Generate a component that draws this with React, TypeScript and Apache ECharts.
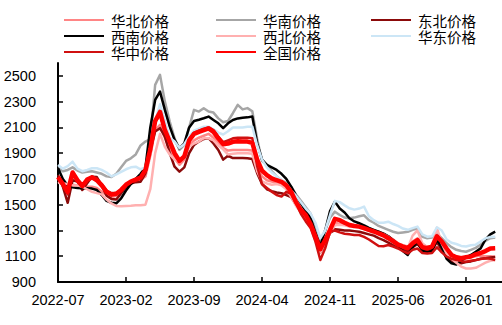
import React, { useEffect, useRef } from "react";
import * as echarts from "echarts";

// Semi-monthly observations starting 2022-07 (x = months since 2022-07)
const STEP_MONTHS = 0.5;
const xTickLabels = ["2022-07", "2023-02", "2023-09", "2024-04", "2024-11", "2025-06", "2026-01"];
const xTickStep = 7;
const yTicks = [900, 1100, 1300, 1500, 1700, 1900, 2100, 2300, 2500];

const huabei = [
  1680, 1660, 1650, 1655, 1650, 1645, 1640, 1640, 1630, 1600,
  1575, 1560, 1570, 1600, 1640, 1670, 1685, 1690, 1720, 1880,
  2080, 2120, 2020, 1930, 1860, 1810, 1850, 1960, 2000, 2020,
  2035, 2050, 2020, 1980, 1940, 1920, 1925, 1925, 1925, 1925,
  1920, 1790, 1720, 1690, 1680, 1670, 1660, 1630, 1580, 1500,
  1440, 1400, 1330, 1240, 1150, 1210, 1290, 1360, 1350, 1345,
  1340, 1335, 1330, 1320, 1310, 1300, 1290, 1275, 1255, 1230,
  1200, 1185, 1175, 1215, 1240, 1190, 1175, 1180, 1245, 1200,
  1150, 1110, 1090, 1085, 1090, 1095, 1100, 1105, 1100, 1100,
  1097,
];
const huanan = [
  1785, 1760, 1770, 1790, 1765, 1750, 1755, 1760, 1750, 1740,
  1720, 1715, 1740, 1790, 1840, 1860, 1890, 1960, 1990, 2010,
  2430, 2508, 2300, 2145, 2016, 1925, 1964, 2100, 2236, 2223,
  2249, 2223, 2215, 2170, 2140, 2150, 2210, 2275, 2240, 2250,
  2225, 2010, 1840, 1810, 1760, 1720, 1690, 1670, 1640, 1580,
  1530, 1480, 1430, 1330, 1220, 1300, 1400, 1446, 1420, 1400,
  1395, 1400, 1410, 1418, 1380, 1360, 1335, 1320, 1305, 1290,
  1280, 1285, 1290, 1305, 1315, 1250, 1240, 1245, 1275, 1240,
  1200, 1170, 1150, 1140, 1135, 1150, 1165, 1190, 1220, 1240,
  1245,
];
const dongbei = [
  1730, 1640, 1515, 1690, 1680, 1614, 1666, 1718, 1715, 1650,
  1570, 1545, 1540, 1589, 1640, 1665, 1675, 1679, 1744, 1924,
  2068, 2094, 2029, 1900, 1795, 1757, 1790, 1900, 1964, 1990,
  2010, 2016, 1975, 1925, 1850, 1880, 1862, 1862, 1862, 1860,
  1855, 1745, 1660, 1620, 1605, 1595, 1589, 1575, 1560, 1500,
  1440, 1395, 1330, 1240, 1130, 1190, 1280, 1310, 1305, 1300,
  1300, 1295, 1290, 1280, 1270, 1260, 1240, 1225, 1205, 1185,
  1165, 1150, 1140, 1170, 1195, 1150, 1145, 1150, 1210, 1150,
  1090, 1060, 1045, 1045, 1055, 1060, 1070, 1080, 1085, 1090,
  1095,
];
const xinan = [
  1785, 1700, 1650, 1635, 1630, 1627, 1627, 1625, 1614, 1575,
  1530, 1515, 1511, 1550, 1610, 1660, 1700, 1740, 1790, 2100,
  2313, 2378, 2236, 2106, 2003, 1938, 1977, 2100, 2150, 2160,
  2171, 2184, 2158, 2132, 2094, 2132, 2158, 2170, 2175, 2178,
  2184, 1977, 1850, 1810, 1790, 1770, 1740, 1700, 1640, 1570,
  1510, 1450, 1395, 1280, 1180, 1300, 1450, 1524, 1470, 1440,
  1395, 1370, 1356, 1340, 1320, 1305, 1290, 1275, 1255, 1225,
  1190, 1140, 1110, 1170, 1213, 1140, 1130, 1140, 1230, 1170,
  1080, 1045, 1035, 1065, 1090, 1110, 1135, 1161, 1230, 1270,
  1291,
];
const xibei = [
  1670, 1665, 1660, 1650, 1650, 1640, 1620, 1600, 1590, 1580,
  1540, 1510, 1490, 1488, 1490, 1492, 1495, 1495, 1500, 1620,
  1900, 2050, 1950, 1890, 1850, 1838, 1880, 1950, 1975, 1990,
  2016, 2016, 2000, 1960, 1930, 1890, 1895, 1900, 1900, 1900,
  1895, 1760, 1680, 1665, 1655, 1660, 1650, 1620, 1560, 1490,
  1440, 1400, 1320, 1220, 1130, 1200, 1280, 1340, 1345, 1340,
  1330, 1330, 1325, 1310, 1300, 1290, 1280, 1270, 1250, 1220,
  1190, 1180, 1165, 1260, 1300, 1200, 1170, 1175, 1320, 1200,
  1120, 1080, 1050, 1020, 1005, 1005, 1010, 1030, 1050, 1065,
  1070,
];
const huadong = [
  1809, 1780, 1800, 1834, 1780, 1760, 1770, 1783, 1783, 1770,
  1750, 1720, 1735, 1755, 1775, 1790, 1795, 1775, 1790, 1900,
  2150, 2280, 2150, 2020, 1990, 1940, 1970, 2030, 2075, 2090,
  2105, 2106, 2085, 2060, 2045, 2070, 2100, 2100, 2100, 2105,
  2106, 1960, 1850, 1790, 1750, 1720, 1690, 1660, 1610, 1570,
  1520, 1470, 1430, 1360, 1240, 1300, 1420, 1530, 1520, 1495,
  1472, 1462, 1470, 1485, 1410, 1380, 1360, 1360, 1368, 1350,
  1335, 1315, 1305, 1318, 1330, 1270, 1252, 1255, 1325, 1300,
  1230, 1205, 1195, 1180, 1175, 1185, 1190, 1215, 1239, 1250,
  1252,
];
const huazhong = [
  1700, 1650, 1580, 1730, 1690, 1640, 1690, 1720, 1700, 1660,
  1610, 1590, 1590, 1615, 1650, 1680, 1700, 1715, 1760, 1940,
  2140, 2200, 2070, 1980, 1890, 1835, 1880, 2010, 2060, 2075,
  2090, 2100, 2080, 2030, 1985, 2000, 2015, 2020, 2020, 2020,
  2015, 1800, 1660, 1630, 1600, 1575, 1563, 1600, 1585, 1511,
  1430, 1370, 1320, 1213, 1071, 1161, 1290, 1300, 1285, 1275,
  1270, 1265, 1265, 1250, 1230, 1205, 1180, 1178, 1187, 1175,
  1160, 1140, 1122, 1150, 1160, 1125, 1122, 1125, 1170, 1130,
  1097, 1080, 1071, 1062, 1058, 1065, 1071, 1078, 1084, 1080,
  1071,
];
const quanguo = [
  1715, 1660, 1600, 1750, 1690, 1645, 1695, 1712, 1690, 1650,
  1600, 1578, 1585, 1615, 1655, 1680, 1695, 1710, 1770, 1930,
  2150, 2220, 2080, 1990, 1900, 1840, 1875, 2000, 2050, 2065,
  2078, 2092, 2065, 2015, 1970, 1975, 1988, 1992, 1990, 1990,
  1980, 1850, 1765, 1730, 1705, 1690, 1678, 1650, 1600, 1520,
  1460, 1420, 1350, 1252, 1155, 1226, 1304, 1390, 1380, 1360,
  1343, 1335, 1330, 1318, 1305, 1292, 1278, 1262, 1240, 1215,
  1190, 1175, 1162, 1200, 1225, 1170, 1162, 1175, 1255, 1215,
  1160, 1110, 1092, 1084, 1092, 1098, 1115, 1125, 1140, 1160,
  1162,
];

const seriesDefs = [
  { name: "华北价格", data: huabei, color: "#FF8585", width: 2.5 },
  { name: "华南价格", data: huanan, color: "#A6A6A6", width: 2.5 },
  { name: "东北价格", data: dongbei, color: "#8B0A0A", width: 2.5 },
  { name: "西南价格", data: xinan, color: "#000000", width: 2.5 },
  { name: "西北价格", data: xibei, color: "#FFB0B0", width: 2.5 },
  { name: "华东价格", data: huadong, color: "#CCE6F6", width: 2.5 },
  { name: "华中价格", data: huazhong, color: "#D01010", width: 2.5 },
  { name: "全国价格", data: quanguo, color: "#FF0000", width: 4.5 },
];

const legendCols = [
  { left: 63, names: ["华北价格", "西南价格", "华中价格"] },
  { left: 215, names: ["华南价格", "西北价格", "全国价格"] },
  { left: 370, names: ["东北价格", "华东价格"] },
];

export default function App() {
  const ref = useRef<HTMLDivElement>(null);
  useEffect(() => {
    if (!ref.current) return;
    const chart = echarts.init(ref.current, null, { renderer: "svg" });
    const labelFont = "Liberation Sans";
    chart.setOption({
      animation: false,
      backgroundColor: "#ffffff",
      legend: legendCols.map((c) => ({
        orient: "vertical",
        left: c.left,
        top: 12,
        padding: 0,
        itemGap: 0,
        itemWidth: 40,
        itemHeight: 16,
        data: c.names,
        itemStyle: { opacity: 0, borderWidth: 0 },
        textStyle: {
          fontSize: 14.5,
          lineHeight: 16,
          color: "#000",
          fontFamily: "Noto Sans CJK SC",
          padding: [0, 0, 0, 2],
        },
      })),
      grid: { left: 58, right: 0, top: 63, bottom: 43, outerBoundsMode: "none" },
      xAxis: {
        type: "value",
        min: 0,
        max: 45.7,
        interval: xTickStep,
        splitLine: { show: false },
        axisLine: { show: true, onZero: false, lineStyle: { color: "#000", width: 2 } },
        axisTick: {
          show: true,
          inside: true,
          length: 5,
          lineStyle: { color: "#000", width: 1.5 },
          customValues: xTickLabels.map((_, i) => i * xTickStep),
        },
        axisLabel: {
          customValues: xTickLabels.map((_, i) => i * xTickStep),
          formatter: (v: number) => xTickLabels[Math.round(v / xTickStep)] ?? "",
          fontSize: 14.5,
          color: "#000",
          fontFamily: labelFont,
          margin: 10,
        },
      },
      yAxis: {
        type: "value",
        min: 900,
        max: 2600,
        interval: 200,
        splitLine: { show: false },
        axisLine: { show: true, lineStyle: { color: "#000", width: 2 } },
        axisTick: {
          show: true,
          inside: true,
          length: 5,
          lineStyle: { color: "#000", width: 1.5 },
          customValues: yTicks,
        },
        axisLabel: {
          customValues: yTicks,
          formatter: (v: number) => String(v),
          fontSize: 14.5,
          color: "#000",
          fontFamily: labelFont,
          margin: 22,
        },
      },
      series: seriesDefs.map((s) => ({
        name: s.name,
        type: "line",
        symbol: "none",
        smooth: false,
        data: s.data.map((v, i) => [i * STEP_MONTHS, v]),
        lineStyle: { color: s.color, width: s.width, join: "round" },
        itemStyle: { color: s.color },
        emphasis: { disabled: true },
      })),
    });
    return () => chart.dispose();
  }, []);
  return <div ref={ref} style={{ width: 502, height: 325, position: "absolute", left: 0, top: 0 }} />;
}
